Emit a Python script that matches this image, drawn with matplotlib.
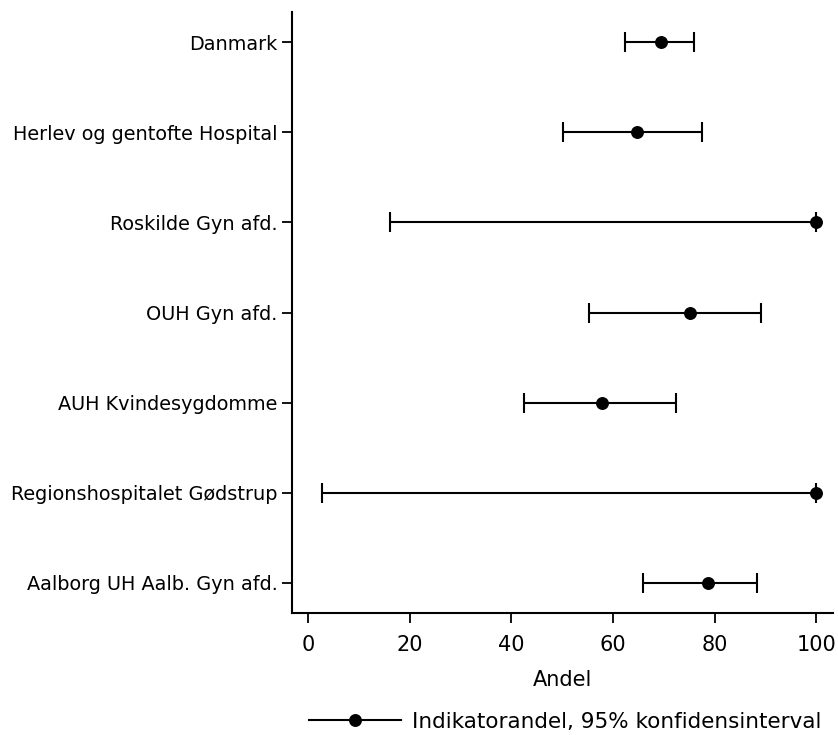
import matplotlib
matplotlib.use("Agg")
import matplotlib.pyplot as plt
from matplotlib.lines import Line2D

categories = ["Danmark", "Herlev og gentofte Hospital", "Roskilde Gyn afd.",
              "OUH Gyn afd.", "AUH Kvindesygdomme", "Regionshospitalet Gødstrup",
              "Aalborg UH Aalb. Gyn afd."]
andel = [69.5, 64.7, 100.0, 75.1, 57.8, 100.0, 78.6]
ci_low = [62.4, 50.2, 16.0, 55.3, 42.4, 2.7, 65.8]
ci_high = [75.9, 77.5, 100.0, 89.2, 72.3, 100.0, 88.3]
xticks = [0, 20, 40, 60, 80, 100]

fig = plt.figure(figsize=(8.38, 7.35), dpi=100)
ax = fig.add_axes([292/838, 1-613/735, (833-292)/838, (613-12)/735])

ypos = list(range(len(categories)))
xerr = [[a - l for a, l in zip(andel, ci_low)], [h - a for a, h in zip(andel, ci_high)]]
ax.errorbar(andel, ypos, xerr=xerr, fmt='o', color='black', ecolor='black',
            markersize=8.3, elinewidth=1.5, capsize=7.5, capthick=1.5)

ax.set_yticks(ypos)
ax.set_yticklabels(categories, fontsize=13.85)
ax.set_ylim(len(categories) - 1 + 0.333, -0.333)
ax.set_xlim(-3.2, 103.3)
ax.set_xticks(xticks)
ax.set_xticklabels([str(t) for t in xticks], fontsize=15)
ax.set_xlabel("Andel", fontsize=15, labelpad=11)

for s in ["top", "right"]:
    ax.spines[s].set_visible(False)
for s in ["left", "bottom"]:
    ax.spines[s].set_linewidth(1.5)
ax.tick_params(axis='both', length=7, width=1.3, direction='out')
ax.tick_params(axis='x', pad=9)

handle = Line2D([], [], color='black', marker='o', markersize=8.3, linewidth=1.5)
fig.legend([handle], ["Indikatorandel, 95% konfidensinterval"], loc='center',
           bbox_to_anchor=(565/838, 1-722/735), frameon=False, fontsize=15.5,
           handlelength=4.3, handletextpad=0.5, borderpad=0, borderaxespad=0)

fig.savefig("out.png", dpi=100)
